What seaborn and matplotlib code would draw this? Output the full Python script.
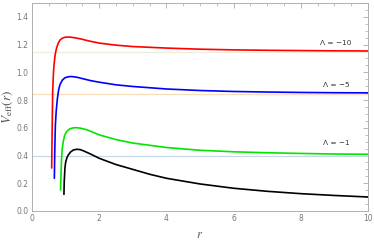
import numpy as np
import pandas as pd
import matplotlib
matplotlib.use("Agg")
import matplotlib.pyplot as plt
import seaborn as sns
from matplotlib.ticker import MultipleLocator

# curves (r, V_eff)
red_r = [0.585, 0.60, 0.615, 0.635, 0.655, 0.69, 0.73, 0.78, 0.83, 0.9, 0.98, 1.1, 1.25, 1.43,
         1.7, 2.0, 2.5, 3.0, 4.0, 5.0, 6.0, 7.0, 8.0, 9.0, 10.0]
red_v = [0.31, 0.6, 0.86, 0.98, 1.054, 1.13, 1.175, 1.21, 1.232, 1.246, 1.253, 1.255, 1.25, 1.242,
         1.226, 1.211, 1.196, 1.186, 1.175, 1.167, 1.162, 1.159, 1.157, 1.155, 1.154]

blue_r = [0.665, 0.675, 0.685, 0.695, 0.72, 0.755, 0.79, 0.83, 0.9, 0.98, 1.08, 1.18, 1.35, 1.53,
          1.75, 2.0, 2.5, 3.0, 4.0, 5.0, 6.0, 7.0, 8.0, 9.0, 10.0]
blue_v = [0.236, 0.4, 0.52, 0.62, 0.72, 0.81, 0.87, 0.91, 0.943, 0.961, 0.968, 0.97, 0.964, 0.953,
          0.94, 0.929, 0.91, 0.898, 0.88, 0.869, 0.862, 0.858, 0.855, 0.853, 0.852]

green_r = [0.85, 0.86, 0.87, 0.88, 0.9, 0.93, 0.97, 1.03, 1.12, 1.23, 1.32, 1.45, 1.63, 1.8,
           2.0, 2.5, 3.0, 4.0, 5.0, 6.0, 7.0, 8.0, 9.0, 10.0]
green_v = [0.152, 0.24, 0.31, 0.38, 0.45, 0.50, 0.545, 0.573, 0.592, 0.60, 0.601, 0.597, 0.586, 0.569,
           0.549, 0.515, 0.49, 0.458, 0.438, 0.427, 0.42, 0.415, 0.411, 0.409]

black_r = [0.95, 0.96, 0.98, 1.0, 1.04, 1.08, 1.15, 1.23, 1.33, 1.43, 1.53, 1.75, 2.0, 2.5,
           3.0, 3.5, 4.0, 5.0, 6.0, 7.0, 8.0, 9.0, 10.0]
black_v = [0.12, 0.22, 0.31, 0.35, 0.385, 0.404, 0.426, 0.44, 0.445, 0.443, 0.434, 0.41, 0.38, 0.335,
           0.30, 0.265, 0.236, 0.195, 0.164, 0.142, 0.125, 0.112, 0.101]

# horizontal reference levels
h_levels = [1.148, 0.845, 0.397]
h_colors = ["#eeecdc", "#f8dcb8", "#c8d8ea"]

labels = ["\u039b = \u221210", "\u039b = \u22125", "\u039b = \u22121"]
label_x = [9.05, 9.05, 9.05]
label_y = [1.211, 0.91, 0.489]

sns.set_style("white")
plt.rcParams["mathtext.fontset"] = "stix"

fig = plt.figure(figsize=(3.74, 2.41), dpi=100)
ax = fig.add_axes([0.0856, 0.1245, 0.8984, 0.863])

for lvl, c in zip(h_levels, h_colors):
    ax.axhline(lvl, color=c, lw=0.9, zorder=1)

curves = [("red", red_r, red_v, "#ff0000"), ("blue", blue_r, blue_v, "#0000ff"),
          ("green", green_r, green_v, "#00e600"), ("black", black_r, black_v, "#000000")]
for name, rr, vv, col in curves:
    df = pd.DataFrame({"r": rr, "V": vv})
    sns.lineplot(data=df, x="r", y="V", color=col, lw=1.2, ax=ax, sort=False,
                 estimator=None, zorder=3)

for t, x, y in zip(labels, label_x, label_y):
    ax.text(x, y, t, fontsize=5.3, color="#333333", ha="center", va="center")

ax.set_xlim(0, 10)
ax.set_ylim(0, 1.5)
ax.xaxis.set_major_locator(MultipleLocator(2))
ax.xaxis.set_minor_locator(MultipleLocator(0.5))
ax.yaxis.set_major_locator(MultipleLocator(0.2))
ax.yaxis.set_minor_locator(MultipleLocator(0.05))
ax.tick_params(which="both", direction="in", top=True, right=True, colors="#aaaaaa",
               labelcolor="#777777", labelsize=5.5, pad=2.5)
ax.tick_params(which="major", length=3.5, width=0.6)
ax.tick_params(which="minor", length=2, width=0.5)
ax.set_xticklabels([f"{int(t)}" for t in ax.get_xticks()])
ax.set_yticklabels([f"{t:.1f}" for t in ax.get_yticks()])
for s in ax.spines.values():
    s.set_color("#b0b0b0")
    s.set_linewidth(0.7)

ax.set_xlabel(r"$r$", fontsize=9, color="#555555", labelpad=3)
ax.set_ylabel(r"$V_{\rm eff}(r)$", fontsize=9.5, color="#555555", labelpad=1)

fig.savefig("out.png", dpi=100)
